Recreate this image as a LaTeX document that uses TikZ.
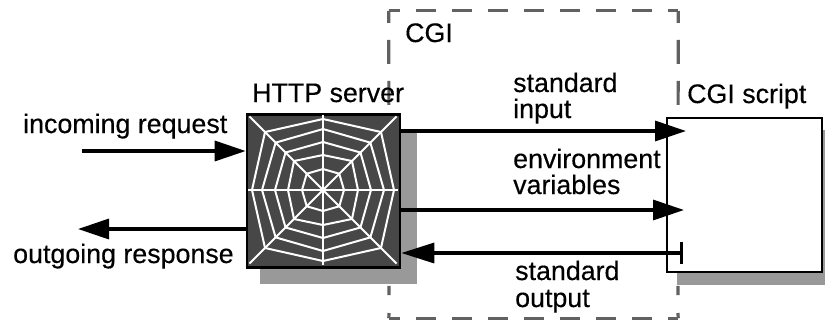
\documentclass[tikz,border=0pt]{standalone}
\usepackage{fontspec}
\setmainfont[FakeBold=0.35]{Liberation Sans}
\usetikzlibrary{arrows.meta}
\tikzset{
 px/.style={x=1pt,y=-1pt},
 lbl/.style={inner sep=0pt,anchor=base west,align=left,font=\fontsize{26.8}{28}\selectfont},
 shadow/.style={fill=black!40,draw=none},
 web/.style={draw=white,line width=2pt,line join=miter},
 flow/.style={line width=3.4pt,black,-{Triangle[length=31pt,width=20pt]}},
 hdash/.style={draw=black!62,line width=3.2pt,dash pattern=on 20pt off 16pt,dash phase=9pt},
 vdash/.style={draw=black!62,line width=3.2pt,dash pattern=on 24pt off 17pt,dash phase=12pt},
 corner/.style={draw=black!62,line width=3.2pt},
}
\begin{document}
\begin{tikzpicture}[px]
\useasboundingbox (0,0) rectangle (825,325);
% shadows
\fill[shadow] (260,132) rectangle (417,284);
\fill[shadow] (677,272) rectangle (825,285);
\fill[shadow] (822,130) rectangle (825,272);
% CGI dashed frame
\node[minimum width=289pt,minimum height=307pt,inner sep=0pt] (cgi) at (533.5,164.5) {};
\coordinate (lowL) at (389,295);
\coordinate (lowR) at (678,295);
\coordinate (cornL) at (389,313);
\coordinate (cornR) at (678,313);
\draw[hdash] (cgi.north west) -- (cgi.north east);
\draw[hdash] (cgi.south west) -- (cgi.south east);
\draw[vdash] (cgi.north west) -- (lowL);
\draw[vdash] (cgi.north east) -- (lowR);
\draw[corner] (cornL) -- (cgi.south west);
\draw[corner] (cornR) -- (cgi.south east);
% server square
\node[draw=black,fill=black!72,line width=2.6pt,minimum width=153pt,minimum height=153pt,inner sep=0pt] (server) at (323.5,191) {};
% web
\coordinate (c) at (323,190);
\foreach \a in {0,45,...,315}{\draw[web] (c) -- +(\a:{mod(\a,90)==0 ? 75 : 104});}
\foreach \r/\d in {71/82,61/67,48/53,35/41,21/23}{
 \draw[web] (c)+(0:\r) -- +(45:\d) -- +(90:\r) -- +(135:\d) -- +(180:\r) -- +(225:\d) -- +(270:\r) -- +(315:\d) -- cycle;
}
% script
\node[draw=black,fill=white,line width=2.2pt,minimum width=155pt,minimum height=154pt,inner sep=0pt] (script) at (744.5,195) {};
% labels
\node[lbl] (lhttp) at (252,102) {HTTP server};
\node[lbl] (lcgi) at (405,42) {CGI};
\node[lbl] (lscript) at (687,103) {CGI script};
\node[lbl] (lin) at (513,92) {standard};
\node[lbl] (lin2) at (513,118) {input};
\node[lbl] (lenv) at (513,168) {environment};
\node[lbl] (lenv2) at (513,194) {variables};
\node[lbl] (lout) at (515,280) {standard};
\node[lbl] (lout2) at (515,307) {output};
\node[lbl] (lreq) at (23,133) {incoming request};
\node[lbl] (lresp) at (13,263) {outgoing response};
% connectors
\coordinate (inS) at (82,151);
\coordinate (outE) at (78,229);
\coordinate (t1) at (686,131);
\coordinate (t2) at (684,210);
\coordinate (f3) at (683,253);
\draw[flow] (inS) -- (inS -| server.west);
\draw[flow] (outE -| server.west) -- (outE);
\draw[flow] (t1 -| server.east) -- (t1);
\draw[flow] (t2 -| server.east) -- (t2);
\draw[line width=3.4pt,{Triangle[length=33pt,width=20pt]}-{Bar[width=22pt,length=3.4pt]}] (f3 -| server.east) -- (f3);
\end{tikzpicture}
\end{document}
